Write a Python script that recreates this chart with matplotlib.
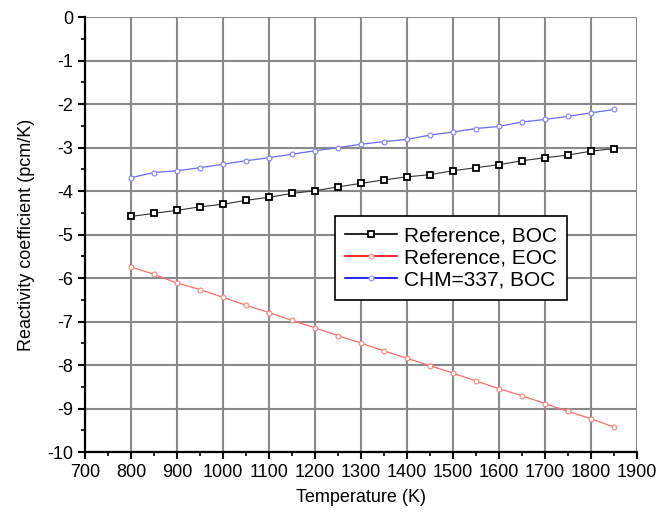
import matplotlib
matplotlib.use('Agg')
import matplotlib.pyplot as plt
from matplotlib.lines import Line2D
from matplotlib.ticker import MultipleLocator

plt.rcParams['font.family'] = ['Liberation Sans', 'DejaVu Sans']
plt.rcParams['axes.unicode_minus'] = False

# 温度点 (K)
temperature = [800, 850, 900, 950, 1000, 1050, 1100, 1150, 1200, 1250, 1300,
               1350, 1400, 1450, 1500, 1550, 1600, 1650, 1700, 1750, 1800, 1850]

ref_boc = [-4.58, -4.51, -4.44, -4.36, -4.30, -4.21, -4.14, -4.05, -3.99, -3.90, -3.82,
           -3.74, -3.67, -3.62, -3.53, -3.46, -3.39, -3.30, -3.23, -3.17, -3.08, -3.02]
ref_eoc = [-5.74, -5.91, -6.11, -6.26, -6.44, -6.62, -6.79, -6.97, -7.14, -7.32, -7.49,
           -7.67, -7.84, -8.01, -8.18, -8.36, -8.54, -8.70, -8.88, -9.06, -9.23, -9.42]
chm_boc = [-3.69, -3.57, -3.53, -3.46, -3.38, -3.30, -3.23, -3.15, -3.07, -3.00, -2.92,
           -2.86, -2.81, -2.71, -2.64, -2.56, -2.51, -2.41, -2.35, -2.28, -2.20, -2.12]

labels = ['Reference, BOC', 'Reference, EOC', 'CHM=337, BOC']

fig = plt.figure(figsize=(6.58, 5.21), dpi=100)
ax = fig.add_axes([0.129, 0.132, 0.839, 0.835])

ax.plot(temperature, ref_boc, color='#333333', lw=0.8, marker='s', ms=5,
        mfc='white', mec='black', mew=1.3)
ax.plot(temperature, ref_eoc, color='#ff6a6a', lw=0.9, marker='o', ms=3.5,
        mfc='white', mec='#ff8080', mew=0.8)
ax.plot(temperature, chm_boc, color='#6a6aff', lw=0.9, marker='o', ms=3.5,
        mfc='white', mec='#8080ff', mew=0.8)

ax.set_xlim(700, 1900)
ax.set_ylim(-10, 0)
ax.xaxis.set_major_locator(MultipleLocator(100))
ax.xaxis.set_minor_locator(MultipleLocator(50))
ax.yaxis.set_major_locator(MultipleLocator(1))
ax.yaxis.set_minor_locator(MultipleLocator(0.5))

ax.grid(True, which='major', color='#8a8a8a', lw=1.5)
ax.set_axisbelow(True)
for s in ['top', 'right']:
    ax.spines[s].set_visible(False)
for s in ['left', 'bottom']:
    ax.spines[s].set_linewidth(1.6)

ax.tick_params(which='major', direction='out', length=5, width=1.5, labelsize=13)
ax.tick_params(which='minor', direction='out', length=3, width=1.2)

ax.set_xlabel('Temperature (K)', fontsize=13, labelpad=6)
ax.set_ylabel('Reactivity coefficient (pcm/K)', fontsize=13, labelpad=9)

# 图例：线条颜色比曲线更饱和
handles = [
    Line2D([], [], color='black', lw=1.2, marker='s', ms=5, mfc='white', mec='black', mew=1.3),
    Line2D([], [], color='red', lw=1.2, marker='o', ms=3.5, mfc='white', mec='#ff9090', mew=0.8),
    Line2D([], [], color='blue', lw=1.2, marker='o', ms=3.5, mfc='white', mec='#9090ff', mew=0.8),
]
leg = ax.legend(handles, labels, loc='upper left', bbox_to_anchor=(0.453, 0.543), fontsize=15,
                frameon=True, fancybox=False, edgecolor='black', framealpha=1,
                handlelength=2.5, borderpad=0.5, labelspacing=0.15, handletextpad=0.3,
                borderaxespad=0)
leg.get_frame().set_linewidth(1.2)

plt.savefig('out.png', dpi=100)
